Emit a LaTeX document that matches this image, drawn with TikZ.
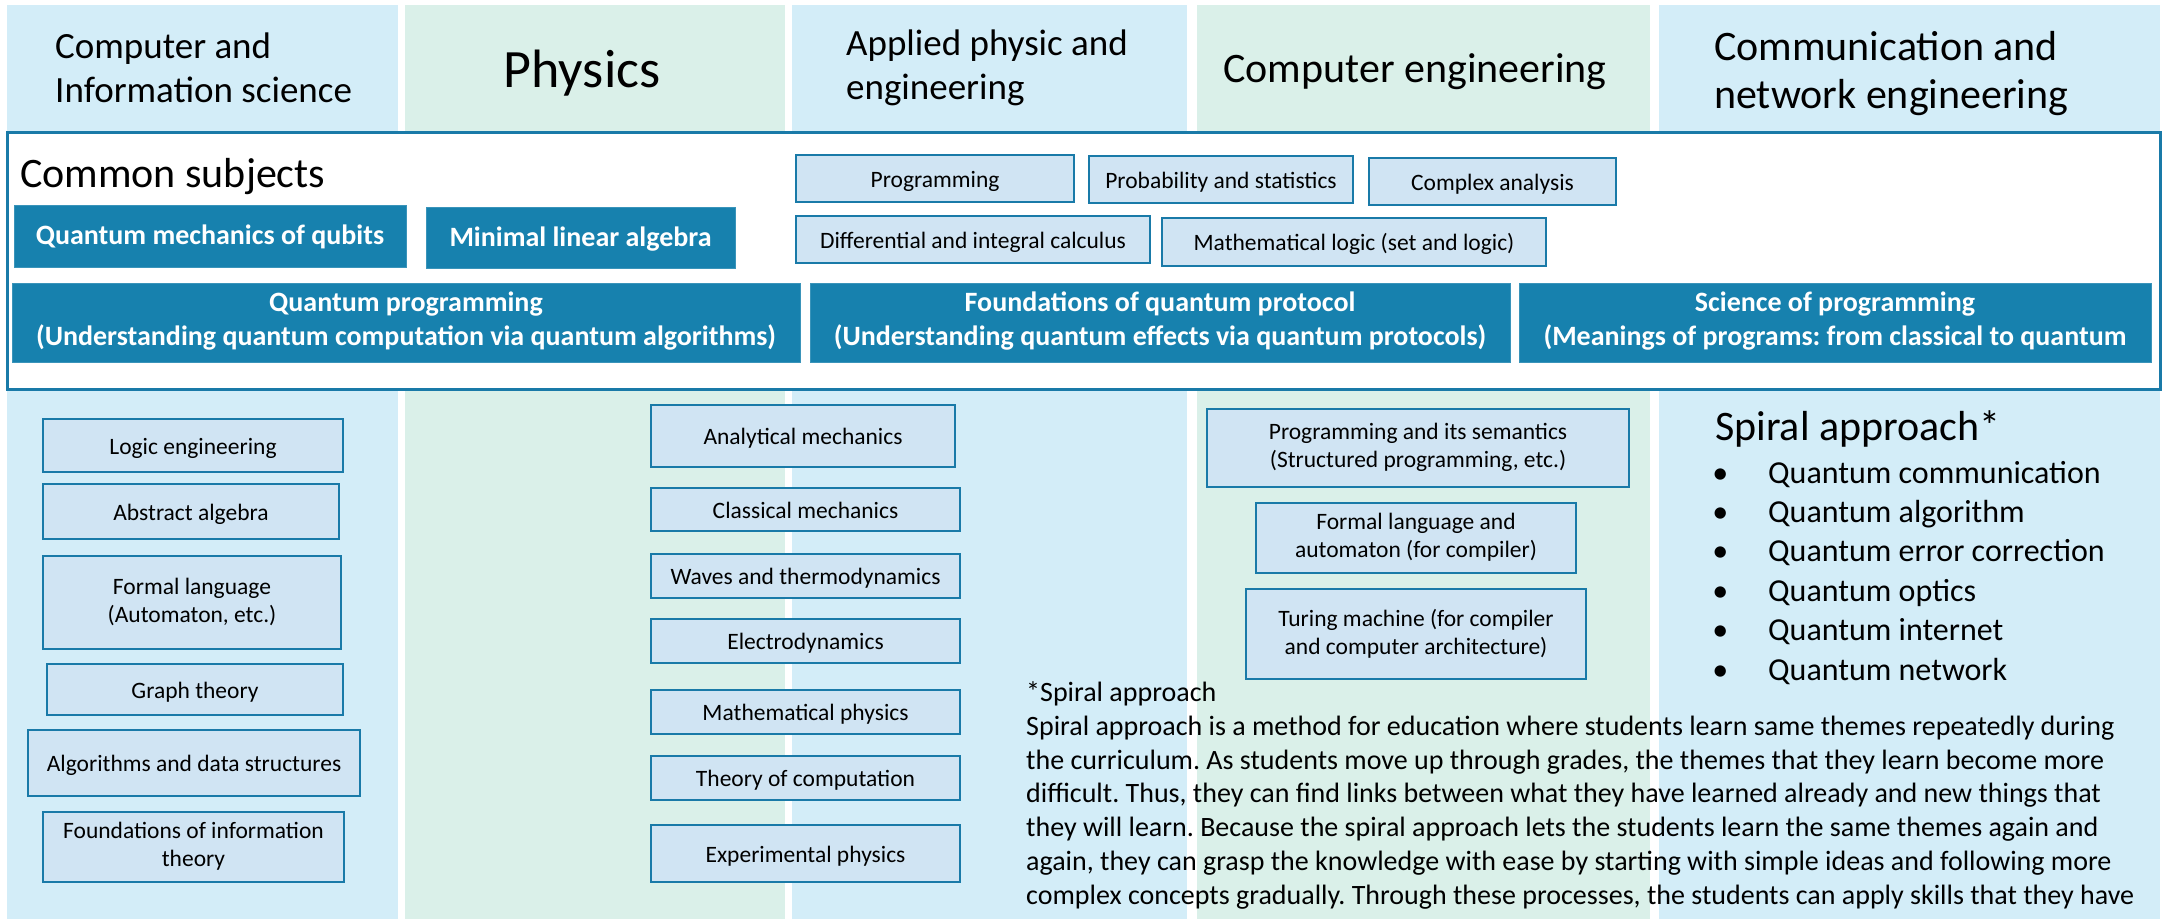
\documentclass[tikz,border=0pt]{standalone}
\usepackage{fontspec}
\setmainfont{Carlito}
\frenchspacing
\definecolor{colblue}{RGB}{211,237,248}
\definecolor{colgreen}{RGB}{218,240,233}
\definecolor{coreblue}{RGB}{23,129,174}
\definecolor{subjfill}{RGB}{208,228,243}
\definecolor{subjedge}{RGB}{25,122,168}
\tikzset{
  subj/.style={draw=subjedge, fill=subjfill, line width=2.5pt, inner sep=0pt, align=center,
    font=\fontsize{23.5}{28}\selectfont,
    execute at begin node=\rule[-0.22em]{0pt}{1.2em}, execute at end node=\rule[-0.22em]{0pt}{1.2em}},
  core/.style={draw=coreblue!85!white, fill=coreblue, line width=1pt, inner sep=0pt, align=center,
    text=white, font=\bfseries\fontsize{28}{34}\selectfont,
    execute at begin node=\rule[-0.28em]{0pt}{1.2em}, execute at end node=\rule[-0.28em]{0pt}{1.2em}},
  hdr/.style={inner sep=0pt, align=left, anchor=base west},
}
\newcommand{\themeitem}[1]{\makebox[0pt]{\textbullet}\hspace{48pt}#1}
\begin{document}
\begin{tikzpicture}[x=1pt, y=-1pt]
  \useasboundingbox (0,0) rectangle (2170,919);
  % field columns
  \foreach \xa/\xb/\c in {7/398/colblue, 405/785/colgreen, 792/1187/colblue, 1197/1650/colgreen, 1659/2160/colblue}
    \fill[\c] (\xa,5) rectangle (\xb,919);
  % headers (base = last line)
  \node[hdr, font=\fontsize{37}{44}\selectfont] (cis) at (55,102) {Computer and\\Information science};
  \node[inner sep=0pt, anchor=base, font=\fontsize{54}{60}\selectfont] (phys) at (582,87) {Physics};
  \node[hdr, font=\fontsize{37}{44}\selectfont] (ape) at (846,99) {Applied physic and\\engineering};
  \node[inner sep=0pt, anchor=base, font=\fontsize{42}{48}\selectfont] (ce) at (1415,82) {Computer engineering};
  \node[hdr, font=\fontsize{42}{48}\selectfont] (cne) at (1714,108) {Communication and\\network engineering};
  % common subjects
  \draw[subjedge, fill=white, line width=3pt] (7,132) rectangle (2160,389);
  \node[hdr, font=\fontsize{42}{48}\selectfont] (common) at (20,187) {Common subjects};
  \node[core, minimum width=392pt, minimum height=62pt] (qmq) at (210,236) {Quantum mechanics of qubits};
  \node[core, minimum width=309pt, minimum height=61pt] (mla) at (580.5,237.5) {Minimal linear algebra};
  \node[subj, minimum width=278pt, minimum height=47pt] (prog) at (935,178.5) {Programming};
  \node[subj, minimum width=264pt, minimum height=47pt] (prob) at (1221,179.5) {Probability and statistics};
  \node[subj, minimum width=247pt, minimum height=47pt] (cplx) at (1492.5,181.5) {Complex analysis};
  \node[subj, minimum width=354pt, minimum height=47pt] (calc) at (973,239.5) {Differential and integral calculus};
  \node[subj, minimum width=384pt, minimum height=48pt] (mlog) at (1354,242) {Mathematical logic (set and logic)};
  \node[core, minimum width=788pt, minimum height=79pt] (qprog) at (406,322.5) {Quantum programming\\(Understanding quantum computation via quantum algorithms)};
  \node[core, minimum width=700pt, minimum height=79pt] (fqp) at (1160,322.5) {Foundations of quantum protocol\\(Understanding quantum effects via quantum protocols)};
  \node[core, minimum width=632pt, minimum height=79pt] (sop) at (1835,322.5) {Science of programming\\(Meanings of programs: from classical to quantum};
  % computer and information science
  \node[subj, minimum width=300pt, minimum height=53pt] (logic) at (193,445.5) {Logic engineering};
  \node[subj, minimum width=296pt, minimum height=55pt] (absalg) at (191,511.5) {Abstract algebra};
  \node[subj, minimum width=298pt, minimum height=93pt] (formal) at (192,602.5) {Formal language\\(Automaton, etc.)};
  \node[subj, minimum width=296pt, minimum height=51pt] (graph) at (195,689.5) {Graph theory};
  \node[subj, minimum width=332pt, minimum height=66pt] (algo) at (194,763) {Algorithms and data structures};
  \node[subj, minimum width=301pt, minimum height=70pt] (infoth) at (193.5,847) {Foundations of information\\theory};
  % applied physics
  \node[subj, minimum width=304pt, minimum height=62pt] (anmech) at (803,436) {Analytical mechanics};
  \node[subj, minimum width=309pt, minimum height=43pt] (clmech) at (805.5,509.5) {Classical mechanics};
  \node[subj, minimum width=309pt, minimum height=44pt] (waves) at (805.5,576) {Waves and thermodynamics};
  \node[subj, minimum width=309pt, minimum height=44pt] (edyn) at (805.5,641) {Electrodynamics};
  \node[subj, minimum width=309pt, minimum height=44pt] (mphys) at (805.5,712) {Mathematical physics};
  \node[subj, minimum width=309pt, minimum height=44pt] (toc) at (805.5,778) {Theory of computation};
  \node[subj, minimum width=309pt, minimum height=57pt] (exphys) at (805.5,853.5) {Experimental physics};
  % computer engineering
  \node[subj, minimum width=422pt, minimum height=78pt] (progsem) at (1418,448) {Programming and its semantics\\(Structured programming, etc.)};
  \node[subj, minimum width=320pt, minimum height=70pt] (formlang) at (1416,538) {Formal language and\\automaton (for compiler)};
  \node[subj, minimum width=340pt, minimum height=90pt] (turing) at (1416,634) {Turing machine (for compiler\\and computer architecture)};
  % spiral approach
  \node[hdr, font=\fontsize{42}{48}\selectfont] (spiral) at (1715,440) {Spiral approach*};
  \node[hdr, font=\fontsize{32}{39.4}\selectfont] (themes) at (1720,680) {%
    \themeitem{Quantum communication}\\
    \themeitem{Quantum algorithm}\\
    \themeitem{Quantum error correction}\\
    \themeitem{Quantum optics}\\
    \themeitem{Quantum internet}\\
    \themeitem{Quantum network}};
  \node[hdr, font=\fontsize{28}{33.7}\selectfont] (note) at (1026,904) {*Spiral approach\\
    Spiral approach is a method for education where students learn same themes repeatedly during\\
    the curriculum. As students move up through grades, the themes that they learn become more\\
    difficult. Thus, they can find links between what they have learned already and new things that\\
    they will learn. Because the spiral approach lets the students learn the same themes again and\\
    again, they can grasp the knowledge with ease by starting with simple ideas and following more\\
    complex concepts gradually. Through these processes, the students can apply skills that they have};
\end{tikzpicture}
\end{document}
